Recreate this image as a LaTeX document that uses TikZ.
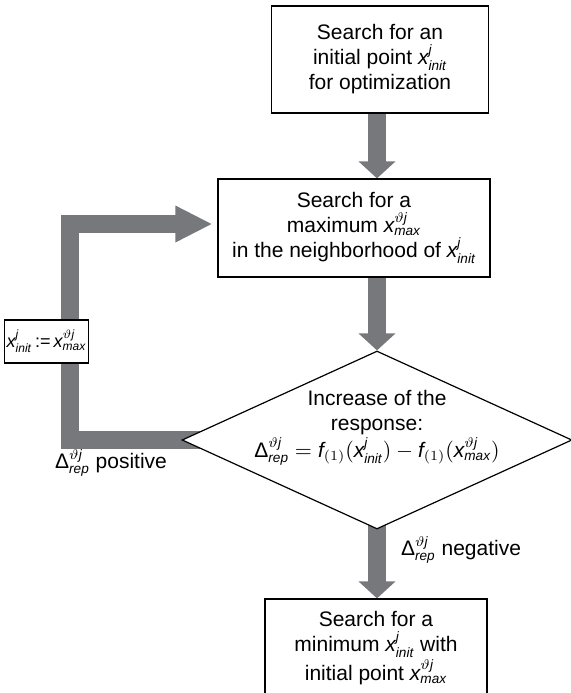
\documentclass[tikz,border=0pt]{standalone}
\usepackage{fontspec}
\setmainfont{Liberation Sans}
\usepackage{amsmath}
\usetikzlibrary{shapes.geometric,arrows.meta,backgrounds}

\DeclareMathSizes{10.5}{10.5}{6.8}{5.5}
\DeclareMathSizes{9}{9}{6}{5}
\definecolor{flowgray}{RGB}{119,120,124}
\newcommand{\xin}{\ensuremath{\textit{x}^{\textit{j}}_{\textit{init}}}}
\newcommand{\xmx}{\ensuremath{\textit{x}^{\vartheta\textit{j}}_{\textit{max}}}}
\newcommand{\drep}{\ensuremath{\text{Δ}^{\vartheta\textit{j}}_{\textit{rep}}}}

\begin{document}
\begin{tikzpicture}[x=0.5pt, y=-0.5pt, font=\fontsize{10.5pt}{12.5pt}\selectfont,
    stepbox/.style = {draw, fill=white, line width=0.6pt, align=center, inner sep=0pt},
    decision/.style = {draw, diamond, fill=white, line width=0.6pt, inner sep=0pt,
        minimum width=195pt, minimum height=89pt},
    fat/.style = {draw=flowgray, line width=9pt},
    tip/.style = {-{Triangle[length=8.5pt,width=18pt]}}]
    \useasboundingbox (0,0) rectangle (571,693);
    % boxes
    \node[stepbox, minimum width=108.5pt, minimum height=53.5pt] (init) at (380,59.5)
        {Search for an\\initial point \xin\\for optimization};
    \node[stepbox, minimum width=136pt, minimum height=49pt] (maxsearch) at (354,228)
        {Search for a\\maximum \xmx\\in the neighborhood of \xin};
    \node[decision] (incr) at (377,440) {};
    \node[align=center] (incrtext) at (377,428)
        {Increase of the\\response:\\[1pt]\drep{} $=\textit{f}_{(1)}(\xin) - \textit{f}_{(1)}(\xmx)$};
    \node[stepbox, minimum width=38.5pt, minimum height=21.5pt, inner xsep=1pt] (swap) at (46.5,341.5)
        {\fontsize{9pt}{11pt}\selectfont\xin{\,}:={\,}\xmx};
    \node[stepbox, minimum width=111pt, minimum height=49pt] (minsearch) at (376,648)
        {Search for a\\minimum \xin{} with\\initial point \xmx};
    % labels
    \node (pos) at (111,463) {\drep{} positive};
    \node[anchor=west] (neg) at (394,550) {\drep{} negative};
    % arrows
    \begin{scope}[on background layer]
        \coordinate (loopx) at (70,0);
        \foreach \a/\b in {init/maxsearch, maxsearch/incr}
            \draw[fat, tip] (\a.south -| incr.north) -- (\b.north -| incr.north);
        \draw[fat, tip] ([yshift=3pt]incr.south) -- (minsearch.north -| incr.south);
        \draw[fat, -{Triangle[length=18.5pt,width=17pt]}] ([xshift=12pt]incr.west)
            -- (incr.west -| loopx) -- ([yshift=2pt]maxsearch.west -| loopx)
            -- ([yshift=2pt,xshift=-2.5pt]maxsearch.west);
    \end{scope}
\end{tikzpicture}
\end{document}
